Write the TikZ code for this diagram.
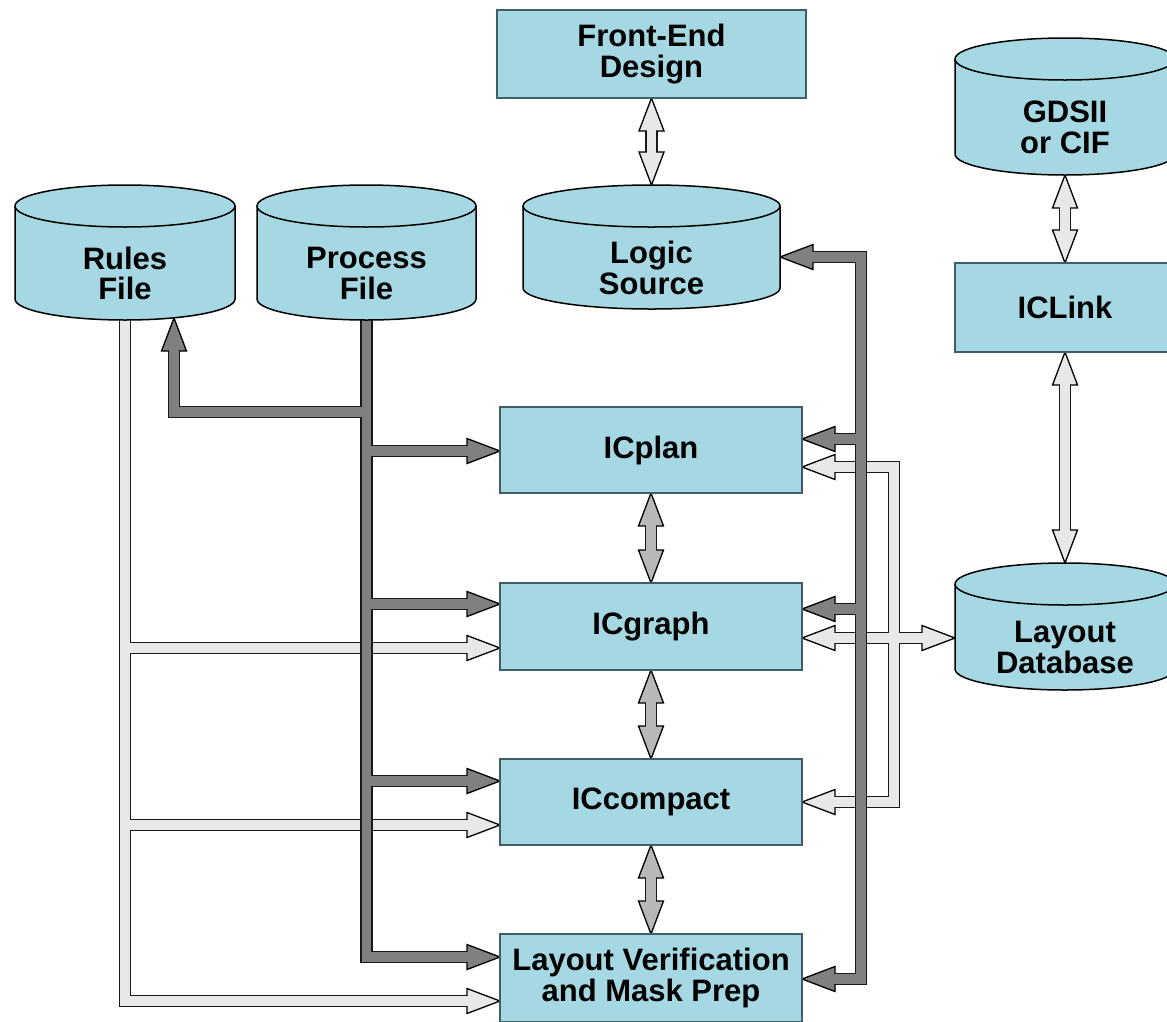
\documentclass[tikz,border=0pt]{standalone}
\usepackage{fontspec}
\setmainfont{Liberation Sans}
\usetikzlibrary{calc}
\pgfdeclarelayer{bg}
\pgfdeclarelayer{conn}
\pgfdeclarelayer{shapes}
\pgfsetlayers{bg,conn,shapes,main}

\definecolor{boxfill}{HTML}{A6D8E4}
\definecolor{boxedge}{HTML}{3F5F68}
\definecolor{darkfill}{HTML}{808080}
\definecolor{lightfill}{HTML}{E8E8E8}
\definecolor{midfill}{HTML}{B8B8B8}

\tikzset{
  lbl/.style={font=\bfseries\fontsize{31}{30.5}\selectfont, align=center},
  box/.style={lbl, rectangle, fill=boxfill, draw=boxedge, line width=2pt, inner sep=0pt, outer sep=0pt},
  cylnode/.style={lbl, rectangle, inner sep=0pt, outer sep=0pt},
  cylbody/.style={fill=boxfill, draw=black, line width=1.5pt},
  outerpass/.style={draw=black!90, line width=12.5pt, line join=miter, line cap=butt},
  innerpass/.style={draw=#1, line width=9.5pt, line join=miter, line cap=butt},
  ahead/.pic={\filldraw[pic actions, draw=black, line width=1.3pt, line join=miter] (0,0) -- (-33,12.5) -- (-33,-12.5) -- cycle;},
}

\newcommand\cylshape[2]{%
  \filldraw[cylbody] ([yshift=21pt]#1.north west) -- ([yshift=21pt]#1.south west)
    arc[start angle=180, end angle=360, x radius=#2pt, y radius=21pt]
    -- ([yshift=21pt]#1.north east)
    arc[start angle=0, end angle=180, x radius=#2pt, y radius=21pt] -- cycle;
  \draw[cylbody, fill=none] ([yshift=21pt]#1.north west)
    arc[start angle=180, end angle=360, x radius=#2pt, y radius=21pt];
}

% light network on the left (from Rules File)
\newcommand\LightLeft[1]{%
  \draw[#1, shorten >=31pt] ([yshift=25pt]rules.south) -- (rules.south |- 0,-1001) -- (lv.west |- 0,-1001);
  \draw[#1, shorten >=31pt] (rules.south |- 0,-648) -- (icgraph.west |- 0,-648);
  \draw[#1, shorten >=31pt] (rules.south |- 0,-825) -- (iccompact.west |- 0,-825);
}
% light network on the right (Layout Database)
\newcommand\LightRight[1]{%
  \draw[#1, shorten <=31pt, shorten >=31pt] (icgraph.east |- 0,-638) -- (layoutdb.west |- 0,-638);
  \draw[#1, shorten >=31pt] (894,-638) -- (894,-467) -- (icplan.east |- 0,-467);
  \draw[#1, shorten >=31pt] (894,-638) -- (894,-802) -- (iccompact.east |- 0,-802);
}
% dark network on the left (from Process File)
\newcommand\DarkLeft[1]{%
  \draw[#1, shorten >=31pt] ([yshift=25pt]process.south) -- (process.south |- 0,-957) -- (lv.west |- 0,-957);
  \draw[#1, shorten >=31pt] (process.south |- 0,-412) -- (174,-412) -- ($(rules.south -| 174,0)+(0,2)$);
  \draw[#1, shorten >=31pt] (process.south |- 0,-451) -- (icplan.west |- 0,-451);
  \draw[#1, shorten >=31pt] (process.south |- 0,-604) -- (icgraph.west |- 0,-604);
  \draw[#1, shorten >=31pt] (process.south |- 0,-781) -- (iccompact.west |- 0,-781);
}
% dark bus on the right (Logic Source)
\newcommand\DarkRight[1]{%
  \draw[#1, shorten <=31pt, shorten >=31pt] (logic.east |- 0,-257) -- (861,-257) -- (861,-979) -- (lv.east |- 0,-979);
  \draw[#1, shorten >=31pt] (861,-439) -- (icplan.east |- 0,-439);
  \draw[#1, shorten >=31pt] (861,-609) -- (icgraph.east |- 0,-609);
}
% vertical double arrows
\newcommand\VArrow[3]{% from, to, colour
  \draw[outerpass, shorten <=31pt, shorten >=31pt] (#1) -- (#2);
  \pic[fill=#3, rotate=90] at (#1) {ahead};
  \pic[fill=#3, rotate=-90] at (#2) {ahead};
  \draw[innerpass=#3, shorten <=31pt, shorten >=31pt] (#1) -- (#2);
}

\begin{document}
\begin{tikzpicture}[x=1pt, y=1pt]
\useasboundingbox (0,0) rectangle (1167,-1021);
\begin{pgfonlayer}{bg}
  \fill[white] (0,0) rectangle (1167,-1021);
\end{pgfonlayer}

% boxes
\node[box, minimum width=309pt, minimum height=88pt] (frontend) at (651.5,-54) {Front-End\\Design};
\node[box, minimum width=302pt, minimum height=86pt] (icplan) at (651,-450) {ICplan};
\node[box, minimum width=302pt, minimum height=87pt] (icgraph) at (651,-626.5) {ICgraph};
\node[box, minimum width=302pt, minimum height=86pt] (iccompact) at (651,-802) {ICcompact};
\node[box, minimum width=302pt, minimum height=88pt] (lv) at (651,-978) {Layout Verification\\and Mask Prep};
\node[box, minimum width=220pt, minimum height=89pt] (iclink) at (1065,-307.5) {ICLink};

% cylinders (node = visible front part)
\node[cylnode, minimum width=220pt, minimum height=93pt] (rules) at (125,-273.5) {Rules\\File};
\node[cylnode, minimum width=219pt, minimum height=93pt] (process) at (366.5,-273.5) {Process\\File};
\node[cylnode, minimum width=257pt, minimum height=82pt] (logic) at (651.5,-268) {Logic\\Source};
\node[cylnode, minimum width=220pt, minimum height=95pt] (gdsii) at (1065,-127.5) {GDSII\\or CIF};
\node[cylnode, minimum width=220pt, minimum height=85pt] (layoutdb) at (1065,-647.5) {Layout\\Database};

\begin{pgfonlayer}{shapes}
  \cylshape{rules}{110}
  \cylshape{process}{109.5}
  \cylshape{logic}{128.5}
  \cylshape{gdsii}{110}
  \cylshape{layoutdb}{110}
\end{pgfonlayer}

\begin{pgfonlayer}{conn}
  % light networks
  \LightLeft{outerpass}
  \LightRight{outerpass}
  \pic[fill=lightfill] at (lv.west |- 0,-1001) {ahead};
  \pic[fill=lightfill] at (icgraph.west |- 0,-648) {ahead};
  \pic[fill=lightfill] at (iccompact.west |- 0,-825) {ahead};
  \pic[fill=lightfill, rotate=180] at (icgraph.east |- 0,-638) {ahead};
  \pic[fill=lightfill] at (layoutdb.west |- 0,-638) {ahead};
  \pic[fill=lightfill, rotate=180] at (icplan.east |- 0,-467) {ahead};
  \pic[fill=lightfill, rotate=180] at (iccompact.east |- 0,-802) {ahead};
  \LightLeft{innerpass=lightfill}
  \LightRight{innerpass=lightfill}
  % dark networks
  \DarkLeft{outerpass}
  \DarkRight{outerpass}
  \pic[fill=darkfill, rotate=90] at ($(rules.south -| 174,0)+(0,2)$) {ahead};
  \pic[fill=darkfill] at (icplan.west |- 0,-451) {ahead};
  \pic[fill=darkfill] at (icgraph.west |- 0,-604) {ahead};
  \pic[fill=darkfill] at (iccompact.west |- 0,-781) {ahead};
  \pic[fill=darkfill] at (lv.west |- 0,-957) {ahead};
  \pic[fill=darkfill, rotate=180] at (logic.east |- 0,-257) {ahead};
  \pic[fill=darkfill, rotate=180] at (icplan.east |- 0,-439) {ahead};
  \pic[fill=darkfill, rotate=180] at (icgraph.east |- 0,-609) {ahead};
  \pic[fill=darkfill, rotate=180] at (lv.east |- 0,-979) {ahead};
  \DarkLeft{innerpass=darkfill}
  \DarkRight{innerpass=darkfill}
  % vertical double arrows
  \VArrow{frontend.south}{$(logic.north)+(0,42)$}{lightfill}
  \VArrow{icplan.south}{icgraph.north}{midfill}
  \VArrow{icgraph.south}{iccompact.north}{midfill}
  \VArrow{iccompact.south}{lv.north}{midfill}
  \VArrow{gdsii.south}{iclink.north}{lightfill}
  \VArrow{iclink.south}{$(layoutdb.north)+(0,42)$}{lightfill}
\end{pgfonlayer}
\end{tikzpicture}
\end{document}
